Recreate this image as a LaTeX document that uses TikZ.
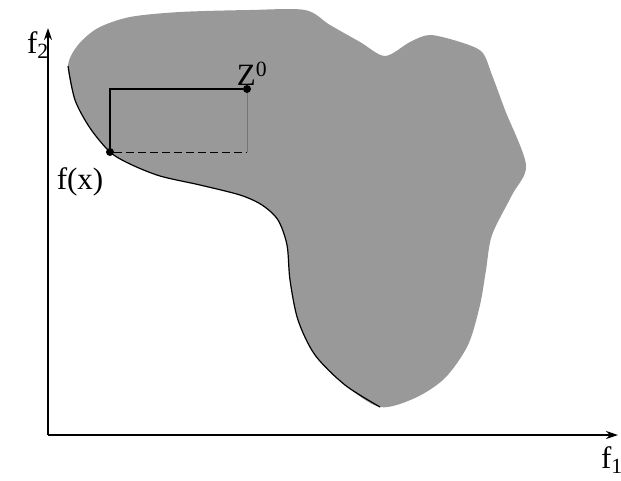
\documentclass[tikz,border=0pt]{standalone}
\usepackage{fontspec}
\setmainfont{Liberation Serif}
\usetikzlibrary{arrows.meta}
\begin{document}
\begin{tikzpicture}[x=1pt,y=-1pt,
  axis/.style={line width=1.3pt,-{Stealth[length=12pt,width=8pt]}},
  lbl/.style={font=\fontsize{31}{33}\selectfont,inner sep=0pt},
  pt/.style={circle,fill=black,inner sep=0pt,minimum size=8pt},
  region/.style={fill=black!40},
  edge/.style={line width=1.2pt}]
\useasboundingbox (0,0) rectangle (621,480);
% feasible region
\path[region] plot[smooth cycle,tension=0.5] coordinates {
 (68,66) (78,45) (98,28) (130,17) (180,12) (250,10) (305,10) (330,25) (360,42)
 (385,56) (410,42) (430,35) (460,42) (482,52) (492,75) (505,110) (526,165)
 (512,195) (492,235) (486,270) (480,305) (468,345) (445,378) (415,398) (380,407)
 (345,385) (315,355) (298,320) (290,280) (287,245) (278,220) (262,205) (240,195)
 (200,185) (160,176) (130,164) (110,152) (90,128) (75,100)};
% dark lower-left boundary
\draw[edge] plot[smooth,tension=0.5] coordinates {
 (68,66) (75,100) (90,128) (110,152) (130,164) (160,176) (200,185) (240,195)
 (262,205) (278,220) (287,245) (290,280) (298,320) (315,355) (345,385) (380,407)};
% axes
\coordinate (O) at (48,435);
\coordinate (ytip) at (48,28);
\coordinate (xtip) at (618,435);
\draw[axis] (O) -- (ytip);
\draw[axis] (O) -- (xtip);
\node[lbl] (f2) at (38,45) {f\textsubscript{2}};
\node[lbl] (f1) at (612,460) {f\textsubscript{1}};
% points
\node[pt] (z) at (247,89) {};
\node[pt] (fx) at (110,152) {};
\node[lbl,anchor=south] (zl) at (252,86) {Z\textsuperscript{0}};
\node[lbl] (fxl) at (80,182) {f(x)};
\coordinate (tl) at (110,89);
\coordinate (br) at (247,152);
\draw[line width=1.2pt] (fx) -- (tl) -- (z);
\draw[line width=1pt,dashed,dash pattern=on 8pt off 4pt] (fx) -- (br);
\draw[line width=0.8pt,black!55] (z) -- (br);
\end{tikzpicture}
\end{document}
